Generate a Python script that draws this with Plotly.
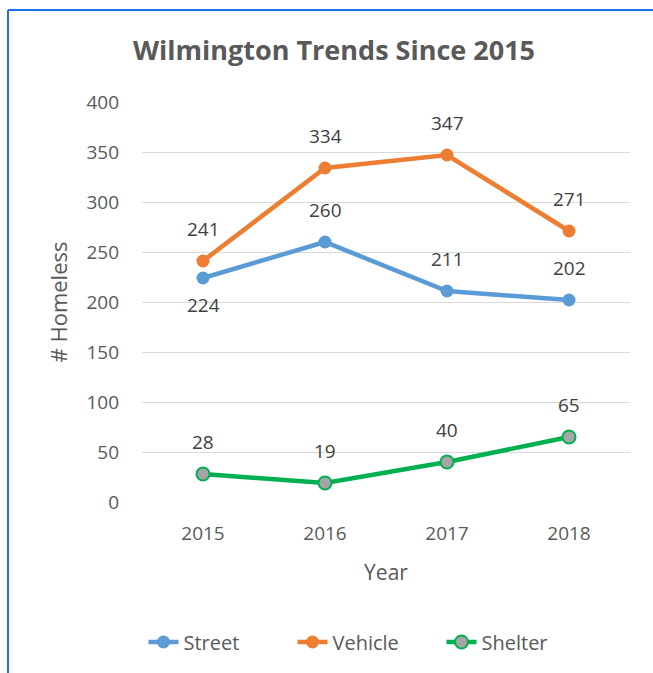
import plotly.graph_objects as go

years = ["2015", "2016", "2017", "2018"]
street = [224, 260, 211, 202]
vehicle = [241, 334, 347, 271]
shelter = [28, 19, 40, 65]
street_label_pos = ["below", "above", "above", "above"]

W, H = 653, 673
L, R, T, B = 142, 630, 102, 502
FONT = "Open Sans"
GRAY = "#595959"

fig = go.Figure()
fig.add_trace(go.Scatter(x=years, y=street, name="Street", mode="lines+markers",
                         line=dict(color="#5B9BD5", width=4.5),
                         marker=dict(size=13, color="#5B9BD5")))
fig.add_trace(go.Scatter(x=years, y=vehicle, name="Vehicle", mode="lines+markers",
                         line=dict(color="#ED7D31", width=4.5),
                         marker=dict(size=13, color="#ED7D31")))
fig.add_trace(go.Scatter(x=years, y=shelter, name="Shelter", mode="lines+markers",
                         line=dict(color="#00B050", width=4.5),
                         marker=dict(size=13, color="#A5A5A5", line=dict(color="#00B050", width=2))))

ann = []
for i in range(len(years)):
    ann.append(dict(x=i, y=street[i], text=str(street[i]),
                    yshift=(-27 if street_label_pos[i] == "below" else 32)))
    ann.append(dict(x=i, y=vehicle[i], text=str(vehicle[i]), yshift=32))
    ann.append(dict(x=i, y=shelter[i], text=str(shelter[i]), yshift=32))
for a in ann:
    a.update(showarrow=False, xref="x", yref="y",
             font=dict(family=FONT, size=19, color="#404040"))

px = lambda x: (x - L) / (R - L)
py = lambda y: (B - y) / (B - T)

fig.update_layout(
    width=W, height=H,
    margin=dict(l=L, r=W - R, t=T, b=H - B),
    paper_bgcolor="white", plot_bgcolor="white",
    font=dict(family=FONT, color=GRAY),
    title=dict(text="<b>Wilmington Trends Since 2015</b>", x=px(334), xanchor="center",
               xref="paper", y=1 - 51 / H, yanchor="middle", font=dict(size=27, color=GRAY)),
    xaxis=dict(type="category", range=[-0.5, 3.5], showgrid=False, showline=False, zeroline=False,
               tickfont=dict(size=19, color=GRAY), ticks="", ticklabelstandoff=18,
               title=dict(text="Year", font=dict(size=21, color=GRAY), standoff=20)),
    yaxis=dict(range=[0, 400], dtick=50, showgrid=True, gridcolor="#D9D9D9", gridwidth=1,
               zeroline=False, showline=False, ticks="", ticklabelstandoff=22,
               tickfont=dict(size=19, color=GRAY),
               title=dict(text="# Homeless", font=dict(size=22, color=GRAY), standoff=12)),
    legend=dict(orientation="h", x=px(367), xanchor="center", y=py(642), yanchor="middle",
                font=dict(size=20, color=GRAY), entrywidth=104, traceorder="normal"),
    annotations=ann,
    showlegend=True,
)
fig.add_shape(type="line", xref="paper", yref="paper", x0=px(8), x1=px(660), y0=py(10), y1=py(10),
              line=dict(color="#1A73E8", width=2))
fig.add_shape(type="line", xref="paper", yref="paper", x0=px(8), x1=px(8), y0=py(10), y1=py(680),
              line=dict(color="#1A73E8", width=2))
fig.write_html("out.html", config={"displayModeBar": False},
               post_script="document.body.style.margin='0';document.body.style.overflow='hidden';")
